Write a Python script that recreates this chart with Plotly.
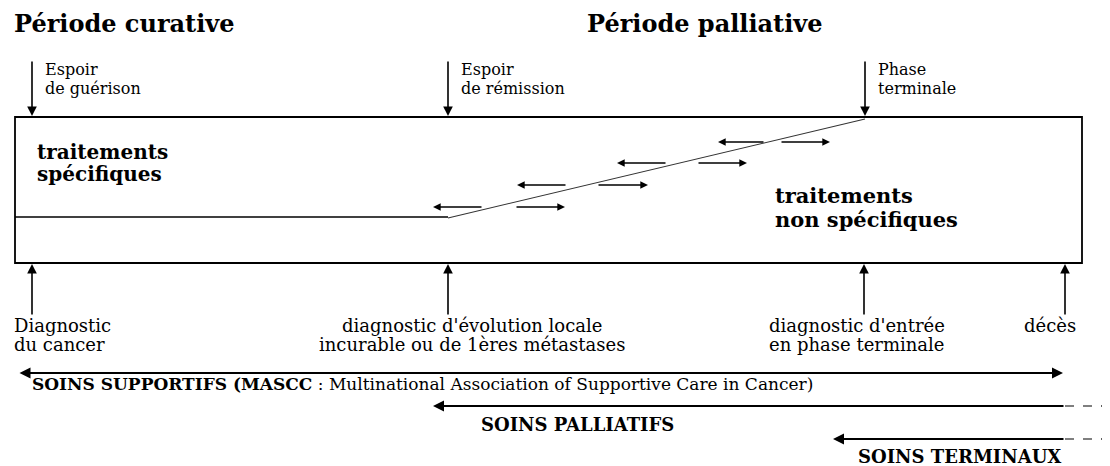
import plotly.graph_objects as go

# ---------------- data (diagram units: timeline position / level) ----------------
period_titles = ["Période curative", "Période palliative"]
period_x = [12, 585]

top_labels = [["Espoir", "de guérison"], ["Espoir", "de rémission"], ["Phase", "terminale"]]
top_x = [32, 448, 865]

bottom_labels = [["Diagnostic", "du cancer"],
                 ["diagnostic d'évolution locale", "incurable ou de 1ères métastases"],
                 ["diagnostic d'entrée", "en phase terminale"],
                 ["décès"]]
bottom_x = [32, 448, 864, 1065]

box_left, box_right, box_top, box_bottom = 15, 1082, 117, 263
split_y = 217            # level of the specific-treatment line
diag_end = (865, 119)     # end of the transition line

# small exchange arrows along the transition: level, left(head, tail), right(tail, head)
exch_y = [207, 185, 163, 142]
exch_left = [(433, 483), (517, 567), (617, 667), (718, 765)]
exch_right = [(515, 565), (597, 648), (697, 747), (780, 830)]

care_names = ["SOINS SUPPORTIFS (MASCC", "SOINS PALLIATIFS", "SOINS TERMINAUX"]
care_start = [18, 433, 833]
care_end = [1063, 1065, 1065]
care_y = [373, 406, 439]

# ---------------- figure ----------------
SERIF = "DejaVu Serif"
BLACK = "#000000"
fig = go.Figure()
shapes = []
ann = []

def line(x0, y0, x1, y1, w=1.6, color=BLACK, dash="solid"):
    shapes.append(dict(type="line", x0=x0, y0=y0, x1=x1, y1=y1, xref="x", yref="y",
                       line=dict(color=color, width=w, dash=dash)))

def arrow(xh, yh, xt, yt, w=1.6, side="end", size=1.2, head=2):
    ann.append(dict(x=xh, y=yh, ax=xt, ay=yt, xref="x", yref="y", axref="x", ayref="y",
                    text="", showarrow=True, arrowhead=head, arrowsize=size,
                    arrowwidth=w, arrowcolor=BLACK, arrowside=side, standoff=0, startstandoff=0))

def text(x, y, s, size=16, bold=False, xanchor="left"):
    if bold:
        s = "<b>" + s + "</b>"
    ann.append(dict(x=x, y=y, xref="x", yref="y", text=s, showarrow=False,
                    xanchor=xanchor, yanchor="middle",
                    font=dict(family=SERIF, size=size, color=BLACK)))

# titles
for t, x in zip(period_titles, period_x):
    text(x, 23, t, size=24, bold=True)

# box
shapes.append(dict(type="rect", x0=box_left, x1=box_right, y0=box_top, y1=box_bottom,
                   xref="x", yref="y", line=dict(color=BLACK, width=1.8)))
line(box_left, split_y, top_x[1], split_y, w=1.4)
line(top_x[1], split_y + 1, diag_end[0], diag_end[1], w=1.1, color="#333333")

# top arrows + labels
for x, lab in zip(top_x, top_labels):
    arrow(x, box_top - 1, x, 60)
    text(x + 11, 69, lab[0], size=16)
    text(x + 11, 88, lab[1], size=16)

# exchange arrows
for y, (lh, lt), (rt, rh) in zip(exch_y, exch_left, exch_right):
    arrow(lh, y, lt, y, w=1.4, size=1.1)
    arrow(rh, y, rt, y, w=1.4, size=1.1)

# treatment labels
text(35, 152, "traitements", size=20, bold=True)
text(35, 174, "spécifiques", size=20, bold=True)
text(773, 195, "traitements", size=21, bold=True)
text(773, 219, "non spécifiques", size=21, bold=True)

# bottom arrows + labels
for x in bottom_x:
    arrow(x, box_bottom + 1, x, 316)
text(12, 325, bottom_labels[0][0], size=18)
text(12, 344, bottom_labels[0][1], size=18)
text(472, 325, bottom_labels[1][0], size=18, xanchor="center")
text(472, 344, bottom_labels[1][1], size=18, xanchor="center")
text(767, 325, bottom_labels[2][0], size=18)
text(767, 344, bottom_labels[2][1], size=18)
text(1050, 325, bottom_labels[3][0], size=18, xanchor="center")

# care arrows
arrow(care_end[0], care_y[0], care_start[0], care_y[0], w=2, side="end+start", size=1.1)
for i in (1, 2):
    arrow(care_start[i], care_y[i], care_end[i], care_y[i], w=2, size=1.1)
    line(care_end[i], care_y[i], 1102, care_y[i], w=1.2, dash="dash")
    arrow(1109, care_y[i], 1100, care_y[i], w=1.0, size=1.0)

text(30, 384, "<b>" + care_names[0] + "</b> : Multinational Association of Supportive Care in Cancer)",
     size=17)
text(577, 424, care_names[1], size=18, bold=True, xanchor="center")
text(959, 456, care_names[2], size=18, bold=True, xanchor="center")

# page body has an 8px margin: shift the view so diagram units equal window pixels
OFF = 8
fig.update_layout(
    width=1110 - OFF, height=466 - OFF, margin=dict(l=0, r=0, t=0, b=0),
    paper_bgcolor="white", plot_bgcolor="white",
    xaxis=dict(range=[OFF, 1110], visible=False, fixedrange=True),
    yaxis=dict(range=[466, OFF], visible=False, fixedrange=True),
    shapes=shapes, annotations=ann, showlegend=False,
)
fig.write_html("out.html")
